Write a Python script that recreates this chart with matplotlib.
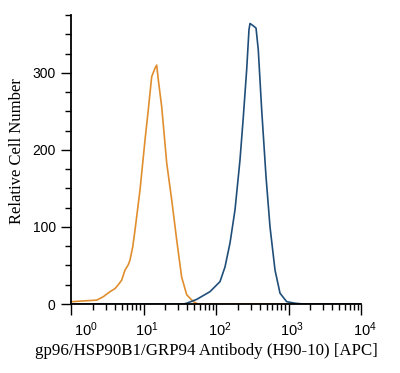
import matplotlib
matplotlib.use("Agg")
import matplotlib.pyplot as plt
import matplotlib.transforms as mtransforms
import numpy as np
from matplotlib.ticker import FixedLocator, NullFormatter

plt.rcParams["mathtext.fontset"] = "custom"
plt.rcParams["mathtext.rm"] = "Liberation Sans"
plt.rcParams["mathtext.it"] = "Liberation Sans"

# isotype control (orange) - log10 intensity vs count
ctrl_log = [0.0, 0.01, 0.17, 0.355, 0.446, 0.538, 0.607, 0.652, 0.699, 0.745, 0.79,
            0.814, 0.851, 0.883, 0.952, 1.021, 1.066, 1.113, 1.159, 1.182, 1.204,
            1.251, 1.32, 1.389, 1.458, 1.526, 1.596, 1.687, 1.75, 4.0]
ctrl_cnt = [3, 3, 4, 5, 9.5, 16, 20, 25, 31, 44, 51,
            57, 74, 96, 148, 213, 252, 295, 306, 310, 291,
            256, 183, 135, 83, 35, 12, 3, 0, 0]

# gp96 antibody (blue)
ab_log = [0.0, 1.55, 1.596, 1.734, 1.917, 2.055, 2.124, 2.193, 2.262, 2.331, 2.377,
          2.423, 2.455, 2.469, 2.514, 2.552, 2.583, 2.630, 2.690, 2.745, 2.814,
          2.883, 2.975, 3.090, 3.2, 4.0]
ab_cnt = [0, 0, 1, 6, 16, 29, 48, 79, 122, 187, 243,
          304, 356, 364, 361, 358, 330, 252, 165, 100, 44,
          14, 3, 1, 0, 0]

xticks = [1, 10, 100, 1000, 10000]
xticklabels = ["$10^{0}$", "$10^{1}$", "$10^{2}$", "$10^{3}$", "$10^{4}$"]
yticks = [0, 100, 200, 300]

fig = plt.figure(figsize=(4.0, 3.73), dpi=100)
ax = fig.add_axes([71 / 400, 69 / 373, 290 / 400, 289 / 373])

ax.plot(10 ** np.array(ctrl_log), ctrl_cnt, color="#E08E2E", lw=1.2)
ax.plot(10 ** np.array(ab_log), ab_cnt, color="#1F4E79", lw=1.2)

ax.set_xscale("log")
ax.set_xlim(1, 10000)
ax.set_ylim(0, 375)

for s in ["top", "right"]:
    ax.spines[s].set_visible(False)
ax.spines["left"].set_linewidth(1.3)
ax.spines["bottom"].set_linewidth(1.3)

ax.xaxis.set_major_locator(FixedLocator(xticks))
ax.set_xticklabels(xticklabels, fontfamily="Liberation Sans", fontsize=10.5)
minor = [m * 10 ** d for d in range(4) for m in range(2, 10)]
ax.xaxis.set_minor_locator(FixedLocator(minor))
ax.xaxis.set_minor_formatter(NullFormatter())
ax.tick_params(axis="x", which="major", length=8, width=1, direction="out", pad=4)
ax.tick_params(axis="x", which="minor", length=4, width=1, direction="out")

# shift labels so that the "10" sits on the tick (first one pushed off the corner)
for i, lab in enumerate(ax.get_xticklabels()):
    dx = (15 if i == 0 else 3.5) / 100
    lab.set_transform(lab.get_transform() + mtransforms.ScaledTranslation(dx, 0, fig.dpi_scale_trans))

ax.set_yticks(yticks)
ax.set_yticklabels([str(v) for v in yticks], fontfamily="Liberation Sans", fontsize=10)
ax.set_yticks(np.arange(0, 376, 25), minor=True)
ax.tick_params(axis="y", which="major", length=7, width=1, direction="out", pad=4)
ax.tick_params(axis="y", which="minor", length=4, width=1, direction="out")

ax.set_xlabel("gp96/HSP90B1/GRP94 Antibody (H90-10) [APC]",
              fontfamily="Liberation Serif", fontsize=12.2)
ax.xaxis.set_label_coords((206 - 71) / 290, -(343 - 304) / 289)
ax.set_ylabel("Relative Cell Number", fontfamily="Liberation Serif", fontsize=12)
ax.yaxis.set_label_coords((25 - 71) / 290, (304 - 151.5) / 289)

fig.savefig("out.png", dpi=100)
